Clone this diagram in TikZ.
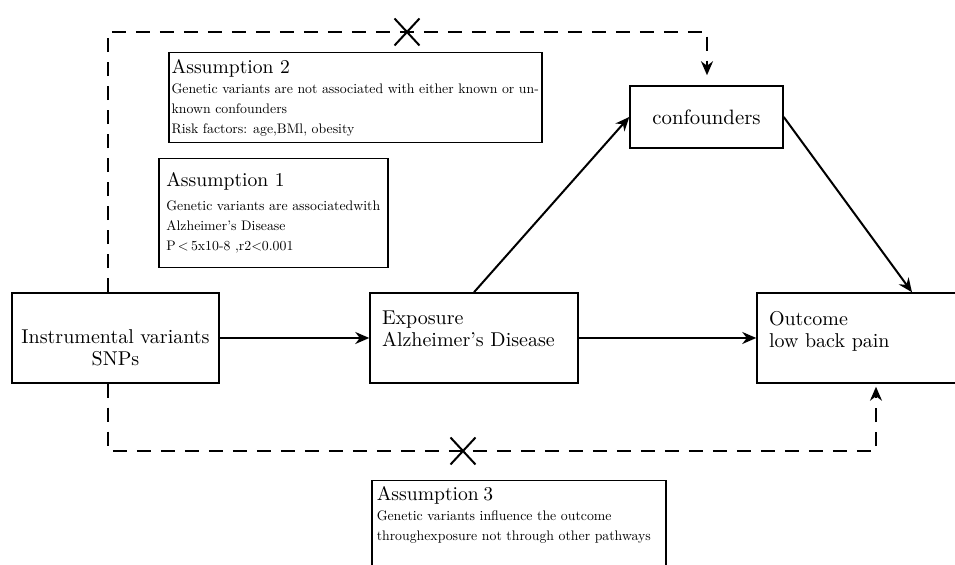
\documentclass[tikz,border=0pt]{standalone}
\usepackage{fontspec}
\usepackage{tikz}
\usetikzlibrary{arrows.meta, shapes.misc}

\newfontfamily\notefont{lmroman10-regular}[Extension=.otf]
\newcommand\asmhead[1]{{\fontsize{9.8}{12}\selectfont #1}}

\begin{document}
\begin{tikzpicture}[
            x = 0.5pt, y = -0.5pt,
            box/.style = {draw, line width=.75pt, minimum height=45pt,
                         font=\fontsize{10}{11}\selectfont},
            note/.style = {draw, line width=.75pt, anchor=north west,
                         align=left, inner xsep=0pt, inner ysep=3pt,
                         font=\notefont\fontsize{6.9}{10}\selectfont},
            link/.style = {line width=1pt, -{Stealth[length=7pt, width=6pt]}},
            hidden/.style = {link, dash pattern=on 7pt off 5pt},
            nix/.style = {cross out, draw, line width=1pt, inner sep=0pt,
                         minimum width=11.5pt, minimum height=12.5pt},
            every edge/.style = {draw, link}
        ]
            \useasboundingbox (0,0) rectangle (955,565);

            \node (iv) at (115.5,338) [box, align=center, minimum width=103.5pt]
                {\rule{0pt}{17pt}Instrumental variants\\SNPs};
            \node (expo) at (474,338) [box, align=left, text width=92pt, inner xsep=6pt]
                {Exposure\\Alzheimer’s Disease\rule[-9pt]{0pt}{9pt}};
            \node (outc) at (862,338) [box, align=left, text width=93pt, inner xsep=6pt]
                {Outcome\\low back pain\rule[-9pt]{0pt}{9pt}};
            \node (conf) at (706.5,117) [box, minimum width=76.5pt, minimum height=31pt,
                font=\fontsize{10.4}{12}\selectfont] {confounders};

            \node (asm2) at (168,52) [note, minimum width=186.5pt, minimum height=45pt]
                {\asmhead{Assumption 2}\\Genetic variants are not associated with either known or un-\\known confounders\\Risk factors: age,BMl, obesity};
            \node (asm1) at (158,158) [note, minimum width=114.5pt, minimum height=54.5pt]
                {\asmhead{Assumption 1}\\[2pt]Genetic variants are associatedwith\\Alzheimer’s Disease\\P\,<\,5x10-8 ,r2<0.001};
            \node (asm3) at (371,480) [note, text width=142pt, inner xsep=2.5pt]
                {\asmhead{Assumption 3}\\Genetic variants influence the outcome\\throughexposure not through other pathways\rule[-20pt]{0pt}{20pt}};

            \coordinate (tl) at (108,32);
            \coordinate (tr) at (707,32);
            \coordinate (bl) at (108,451);
            \coordinate (br) at (876,451);

            %
            \path   (iv) edge (expo)    (expo) edge (outc)
                    (expo.north) edge (conf.west)
                    (conf.east) edge ([xshift=25pt]outc.north);

            \draw[hidden, shorten >=5pt] (iv.north -| tl) -- (tl) -- (tr) -- (conf.north -| tr);
            \draw[hidden, shorten >=1.5pt] (iv.south -| bl) -- (bl) -- (br) -- (outc.south -| br);

            \node (cut1) at (407,32) [nix] {};
            \node (cut2) at (463,451) [nix] {};
        \end{tikzpicture}
\end{document}
